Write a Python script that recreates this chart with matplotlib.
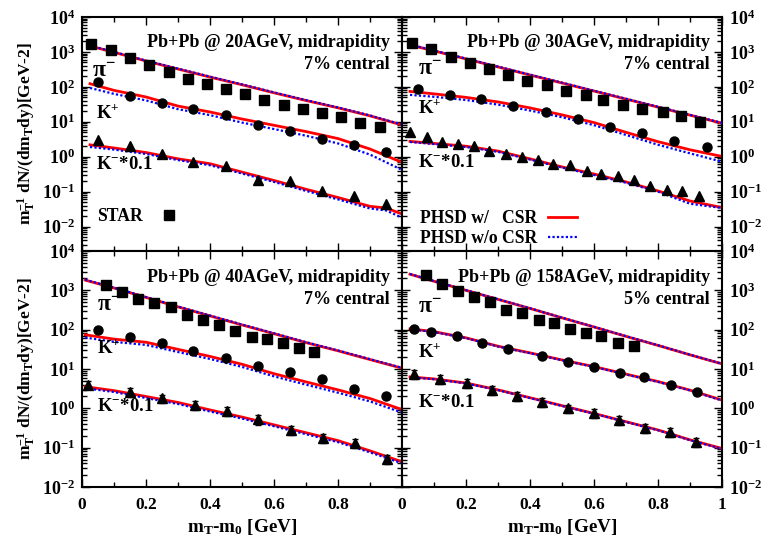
import math
import matplotlib
matplotlib.use("Agg")
import matplotlib.pyplot as plt
from matplotlib.lines import Line2D
from matplotlib.ticker import FixedLocator, FuncFormatter, NullFormatter

plt.rcParams['font.family'] = ['Liberation Serif', 'DejaVu Serif']
plt.rcParams['font.weight'] = 'bold'
plt.rcParams['mathtext.fontset'] = 'custom'
plt.rcParams['mathtext.rm'] = 'Liberation Serif:bold'
plt.rcParams['mathtext.it'] = 'Liberation Serif:bold'
plt.rcParams['mathtext.bf'] = 'Liberation Serif:bold'
plt.rcParams['mathtext.default'] = 'rm'

# ---------------- data ----------------
# line grid
x_line = [0.025, 0.1, 0.2, 0.3, 0.4, 0.5, 0.6, 0.7, 0.8, 0.9, 1.0]
x_line0 = [0.01, 0.1, 0.2, 0.3, 0.4, 0.5, 0.6, 0.7, 0.8, 0.9, 1.0]
x_line_k20 = [0.025, 0.1, 0.2, 0.3, 0.4, 0.5, 0.6, 0.7, 0.8, 0.9, 0.95, 1.0]

# Pb+Pb 20 AGeV
pi20_x = [0.027, 0.091, 0.150, 0.210, 0.272, 0.332, 0.392, 0.449, 0.509, 0.570, 0.631, 0.692, 0.751, 0.809, 0.869, 0.931]
pi20_y = [1690, 1140, 660, 425, 268, 169, 119, 86, 62, 42.5, 30.6, 23.5, 18, 13.3, 9.5, 6.9]
kp20_x = [0.049, 0.150, 0.249, 0.348, 0.449, 0.549, 0.650, 0.749, 0.850, 0.950]
kp20_y = [142, 53, 34, 23, 15.8, 8.2, 5.6, 3.3, 2.1, 1.36]
km20_x = [0.049, 0.150, 0.249, 0.348, 0.449, 0.549, 0.650, 0.749, 0.850, 0.950]
km20_y = [3.06, 2.06, 1.22, 0.72, 0.53, 0.22, 0.197, 0.102, 0.077, 0.043]
pi20_csr = [1480, 977, 550, 324, 191, 115, 67.6, 40.7, 25.1, 14.8, 8.1]
pi20_nocsr = [1520, 1000, 565, 333, 196, 118, 69.5, 41.8, 25.8, 15.2, 8.3]
kp20_csr = [123, 79.4, 51.3, 28.2, 19.1, 12.0, 7.94, 5.25, 3.31, 1.66, 0.69]
kp20_nocsr = [93, 63, 41, 23, 15.5, 9.5, 6.2, 4.0, 2.4, 1.15, 0.42]
km20_csr = [2.19, 1.78, 1.32, 0.87, 0.63, 0.363, 0.209, 0.117, 0.068, 0.038, 0.034, 0.023]
km20_nocsr = [1.9, 1.6, 1.2, 0.8, 0.57, 0.33, 0.19, 0.105, 0.06, 0.033, 0.029, 0.018]

# Pb+Pb 30 AGeV
pi30_x = [0.030, 0.090, 0.153, 0.213, 0.272, 0.332, 0.392, 0.452, 0.513, 0.575, 0.629, 0.692, 0.751, 0.815, 0.872, 0.931]
pi30_y = [1775, 1220, 706, 475, 327, 220, 151, 114, 78, 59, 42.6, 30.6, 23.5, 18.5, 14.2, 9.8]
kp30_x = [0.049, 0.150, 0.246, 0.348, 0.450, 0.551, 0.650, 0.751, 0.850, 0.954]
kp30_y = [87.7, 59, 44.6, 28.6, 18.9, 12.4, 7.2, 4.75, 2.74, 1.89]
km30_x = [0.025, 0.077, 0.124, 0.174, 0.225, 0.273, 0.324, 0.376, 0.426, 0.473, 0.525, 0.577, 0.622, 0.676, 0.726, 0.775, 0.827, 0.876, 0.929]
km30_y = [5.08, 3.56, 2.56, 2.3, 1.97, 1.48, 1.22, 0.98, 0.785, 0.63, 0.565, 0.398, 0.327, 0.274, 0.22, 0.148, 0.114, 0.107, 0.0735]
pi30_csr = [1585, 1072, 631, 372, 219, 129, 75.9, 44.7, 26.3, 15.5, 9.1]
pi30_nocsr = [1620, 1100, 645, 380, 224, 132, 77.5, 45.7, 26.9, 15.8, 9.3]
kp30_csr = [74, 63, 50, 37, 25, 15.8, 9.5, 5.0, 2.7, 1.58, 1.02]
kp30_nocsr = [59, 52, 42, 31, 21, 13.5, 8.0, 4.2, 2.2, 1.25, 0.72]
km30_csr = [2.75, 2.4, 2.0, 1.45, 0.87, 0.51, 0.32, 0.19, 0.105, 0.054, 0.035]
km30_nocsr = [2.65, 2.3, 1.9, 1.38, 0.83, 0.49, 0.3, 0.18, 0.1, 0.045, 0.034]

# Pb+Pb 40 AGeV
pi40_x = [0.075, 0.126, 0.176, 0.226, 0.278, 0.329, 0.379, 0.428, 0.478, 0.530, 0.577, 0.629, 0.678, 0.726]
pi40_y = [1368, 891, 592, 468, 370, 236, 176, 131, 92.5, 64, 56.9, 45, 34.8, 27.5]
kp40_x = [0.049, 0.150, 0.249, 0.348, 0.449, 0.549, 0.650, 0.749, 0.850, 0.950]
kp40_y = [98, 64, 45, 28.6, 18.7, 12.1, 8.2, 5.5, 3.05, 2.06]
km40_x = [0.020, 0.150, 0.249, 0.354, 0.452, 0.549, 0.653, 0.752, 0.853, 0.952]
km40_y = [3.92, 2.65, 1.79, 1.21, 0.87, 0.526, 0.281, 0.173, 0.134, 0.0505]
km40_err = [0.9, 0.7, 0.45, 0.3, 0.22, 0.14, 0.07, 0.045, 0.035, 0.013]
pi40_csr = [1820, 1148, 661, 380, 224, 132, 79, 47, 29, 17.4, 10.5]
pi40_nocsr = [1860, 1170, 675, 388, 229, 135, 81, 48, 29.6, 17.8, 10.7]
kp40_csr = [74, 57.5, 47.9, 31.6, 20.9, 13.2, 7.6, 4.7, 2.95, 1.78, 0.93]
kp40_nocsr = [63, 49, 41, 27, 18, 11.3, 6.5, 4.0, 2.5, 1.5, 0.78]
km40_csr = [3.55, 2.82, 2.0, 1.41, 0.91, 0.6, 0.38, 0.24, 0.151, 0.083, 0.0437]
km40_nocsr = [3.25, 2.6, 1.83, 1.29, 0.83, 0.55, 0.35, 0.22, 0.138, 0.076, 0.04]

# Pb+Pb 158 AGeV
pi158_x = [0.075, 0.124, 0.176, 0.225, 0.275, 0.325, 0.376, 0.428, 0.475, 0.525, 0.575, 0.622, 0.676, 0.726]
pi158_y = [2455, 1449, 962, 665, 495, 316, 270, 176, 145, 104, 84, 69, 45, 38.5]
kp158_x = [0.0375, 0.090, 0.171, 0.251, 0.330, 0.439, 0.520, 0.601, 0.681, 0.757, 0.840, 0.921]
kp158_y = [102, 89, 69, 45, 32.2, 21.8, 15.3, 11.5, 8.05, 6.14, 3.92, 2.55]
km158_x = [0.0375, 0.119, 0.202, 0.280, 0.358, 0.439, 0.520, 0.601, 0.679, 0.759, 0.837, 0.919]
km158_y = [7.46, 5.57, 4.33, 2.92, 2.06, 1.48, 1.0, 0.746, 0.505, 0.322, 0.255, 0.142]
km158_err = [1.8, 1.4, 1.1, 0.75, 0.5, 0.37, 0.25, 0.19, 0.13, 0.08, 0.065, 0.035]
pi158_csr = [2570, 1700, 1000, 589, 347, 200, 117, 67.6, 39.8, 22.9, 13.5]
pi158_nocsr = [2600, 1720, 1010, 595, 350, 202, 118, 68.3, 40.2, 23.1, 13.6]
kp158_csr = [105, 89, 62, 38, 25.7, 17, 11.5, 7.4, 4.8, 2.9, 1.62]
kp158_nocsr = [103, 87, 61, 37.3, 25.2, 16.7, 11.3, 7.25, 4.7, 2.85, 1.58]
km158_csr = [6.3, 5.6, 4.4, 2.95, 1.86, 1.17, 0.74, 0.457, 0.282, 0.158, 0.0955]
km158_nocsr = [6.2, 5.5, 4.3, 2.9, 1.83, 1.15, 0.73, 0.45, 0.277, 0.155, 0.093]

# axis ticks
x_major = [0, 0.2, 0.4, 0.6, 0.8, 1.0]
x_minor = [0.1, 0.3, 0.5, 0.7, 0.9]
y_decades = [1e-2, 1e-1, 1e0, 1e1, 1e2, 1e3, 1e4]

panels = [
    dict(title='Pb+Pb @ 20AGeV, midrapidity', cent='7% central',
         pi=(pi20_x, pi20_y), kp=(kp20_x, kp20_y), km=(km20_x, km20_y), km_err=None,
         pi_l=(x_line, pi20_csr, pi20_nocsr), kp_l=(x_line, kp20_csr, kp20_nocsr),
         km_l=(x_line_k20, km20_csr, km20_nocsr)),
    dict(title='Pb+Pb @ 30AGeV, midrapidity', cent='7% central',
         pi=(pi30_x, pi30_y), kp=(kp30_x, kp30_y), km=(km30_x, km30_y), km_err=None,
         pi_l=(x_line, pi30_csr, pi30_nocsr), kp_l=(x_line, kp30_csr, kp30_nocsr),
         km_l=(x_line, km30_csr, km30_nocsr)),
    dict(title='Pb+Pb @ 40AGeV, midrapidity', cent='7% central',
         pi=(pi40_x, pi40_y), kp=(kp40_x, kp40_y), km=(km40_x, km40_y), km_err=km40_err,
         pi_l=(x_line0, pi40_csr, pi40_nocsr), kp_l=(x_line0, kp40_csr, kp40_nocsr),
         km_l=(x_line0, km40_csr, km40_nocsr)),
    dict(title='Pb+Pb @ 158AGeV, midrapidity', cent='5% central',
         pi=(pi158_x, pi158_y), kp=(kp158_x, kp158_y), km=(km158_x, km158_y), km_err=km158_err,
         pi_l=(x_line, pi158_csr, pi158_nocsr), kp_l=(x_line, kp158_csr, kp158_nocsr),
         km_l=(x_line, km158_csr, km158_nocsr)),
]

# ---------------- figure ----------------
W, H = 765, 543
fig = plt.figure(figsize=(W / 100, H / 100), dpi=100)

x0, xm, x1 = 82, 402, 722
y_top, y_mid, y_bot = 17, 251, 487
rects = [
    (x0, y_top, xm - x0, y_mid - y_top),
    (xm, y_top, x1 - xm, y_mid - y_top),
    (x0, y_mid, xm - x0, y_bot - y_mid),
    (xm, y_mid, x1 - xm, y_bot - y_mid),
]

# particle label positions (axes coords)
lab_pos = [
    [(0.03, 0.77), (0.045, 0.59), (0.045, 0.368)],
    [(0.05, 0.78), (0.05, 0.611), (0.05, 0.38)],
    [(0.047, 0.775), (0.047, 0.589), (0.047, 0.339)],
    [(0.05, 0.766), (0.05, 0.572), (0.05, 0.36)],
]
lab_text = [r'$\pi^{-}$', r'K$^{+}$', r'K$^{-}$*0.1']
lab_size = [17, 13.5, 13.5]

red = '#ff0000'
blue = '#0000ff'
fs_tick = 13
fs_text = 13
fs_leg = 12.7


def yfmt(v, pos):
    e = int(round(math.log10(v)))
    return r'$\mathbf{10^{%d}}$' % e


for i, (p, r) in enumerate(zip(panels, rects)):
    left, top, w, h = r
    ax = fig.add_axes([left / W, 1 - (top + h) / H, w / W, h / H])
    ax.set_yscale('log')
    ymin = 0.002 if i < 2 else 0.01
    ax.set_xlim(0, 1)
    ax.set_ylim(ymin, 1e4)

    for key in ('pi_l', 'kp_l', 'km_l'):
        xl, yc, yn = p[key]
        ax.plot(xl, yc, color=red, lw=2.0, zorder=2)
        ax.plot(xl, yn, color=blue, lw=1.6, ls=(0, (1, 1)), zorder=3)

    ax.plot(*p['pi'], 's', color='black', ms=6.5, zorder=5)
    ax.plot(*p['kp'], 'o', color='black', ms=6.5, zorder=5)
    if p['km_err'] is None:
        ax.plot(*p['km'], '^', color='black', ms=7.5, zorder=5)
    else:
        ax.errorbar(p['km'][0], p['km'][1], yerr=p['km_err'], fmt='^', color='black',
                    ms=7.5, elinewidth=1.0, capsize=2, zorder=5)

    ax.text(0.9625, 0.889, p['title'], transform=ax.transAxes, ha='right', va='center',
            fontsize=fs_text, fontweight='bold')
    ax.text(0.9625, 0.795, p['cent'], transform=ax.transAxes, ha='right', va='center',
            fontsize=fs_text, fontweight='bold')

    for (lx, ly), s, fs in zip(lab_pos[i], lab_text, lab_size):
        ax.text(lx, ly, s, transform=ax.transAxes, ha='left', va='center', fontsize=fs,
                fontweight='bold')

    # ticks (only inside the shown range)
    y_minor = [m * d for d in [1e-3] + y_decades for m in range(2, 10) if ymin <= m * d <= 1e4]
    ax.xaxis.set_major_locator(FixedLocator(x_major))
    ax.xaxis.set_minor_locator(FixedLocator(x_minor))
    ax.yaxis.set_major_locator(FixedLocator(y_decades))
    ax.yaxis.set_minor_locator(FixedLocator(y_minor))
    ax.yaxis.set_minor_formatter(NullFormatter())
    ax.yaxis.set_major_formatter(FuncFormatter(yfmt))
    ax.tick_params(which='both', direction='in', top=True, right=True, width=1.0)
    ax.tick_params(which='major', length=6)
    ax.tick_params(which='minor', length=3.5)
    ax.tick_params(axis='y', labelsize=fs_tick)
    ax.tick_params(axis='x', labelsize=12.5)
    for sp in ax.spines.values():
        sp.set_linewidth(1.5)

    if i % 2 == 1:
        ax.tick_params(axis='y', labelleft=False, labelright=True, pad=5)
    else:
        ax.tick_params(axis='y', pad=5)
        ax.set_ylabel(r'm$_\mathrm{T}^{-1}$ dN/(dm$_\mathrm{T}$dy)[GeV-2]', fontsize=12.5,
                      fontweight='bold', labelpad=3)
    if i < 2:
        ax.tick_params(axis='x', labelbottom=False)
    else:
        ax.tick_params(axis='x', pad=7)
        ax.set_xlabel(r'm$_\mathrm{T}$-m$_\mathrm{0}$ [GeV]', fontsize=13.8, fontweight='bold',
                      labelpad=3)
        if i == 2:
            ax.xaxis.set_major_formatter(FuncFormatter(lambda v, pos: '' if v > 0.99 else '%g' % v))
        else:
            ax.xaxis.set_major_formatter(FuncFormatter(lambda v, pos: '%g' % v))

    if i == 0:
        h_star = Line2D([], [], marker='s', color='black', ls='none', ms=6.5)
        ax.legend([h_star], ['STAR'], loc='upper left', bbox_to_anchor=(0.047, 0.185),
                  markerfirst=False, frameon=False, prop={'size': fs_leg, 'weight': 'bold'},
                  handlelength=1.0, handletextpad=1.0, borderpad=0, borderaxespad=0)
    if i == 1:
        h1 = Line2D([], [], color=red, lw=2.0)
        h2 = Line2D([], [], color=blue, lw=1.6, ls=(0, (1, 1)))
        ax.legend([h1, h2], ['PHSD w/   CSR', 'PHSD w/o CSR'], loc='upper left',
                  bbox_to_anchor=(0.056, 0.174), markerfirst=False, frameon=False,
                  prop={'size': fs_leg, 'weight': 'bold'}, handlelength=1.65,
                  handletextpad=0.6, labelspacing=0.15, borderpad=0, borderaxespad=0)

fig.savefig('out.png', dpi=100)
